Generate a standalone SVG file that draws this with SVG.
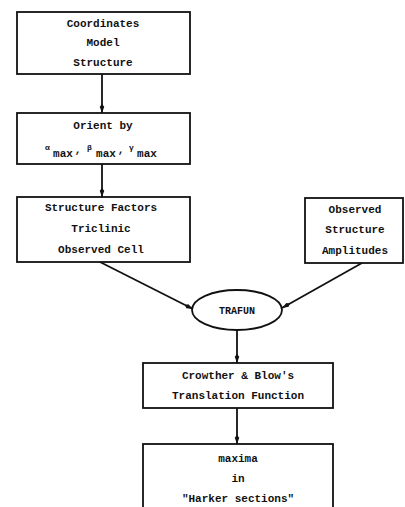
<svg xmlns="http://www.w3.org/2000/svg" width="405" height="507" viewBox="0 0 405 507">
<style>
.box{fill:#fff;stroke:#111;stroke-width:1.8}
.t{font-family:"Liberation Mono","DejaVu Sans Mono",monospace;font-weight:bold;font-size:11px;fill:#111;text-anchor:middle}
.s{font-family:"Liberation Mono","DejaVu Sans Mono",monospace;font-weight:bold;font-size:8px;fill:#111}
.c{stroke:#111;stroke-width:1.8;fill:none;marker-end:url(#ah)}
</style>
<defs>
<marker id="ah" viewBox="0 0 10 6" refX="10" refY="3" markerWidth="5" markerHeight="3" orient="auto" markerUnits="strokeWidth">
<path d="M0,3 L3,0.5 L10,3 L3,5.5 Z" fill="#111"/>
</marker>
</defs>
<rect width="405" height="507" fill="#fff"/>
<g id="connectors">
<line class="c" x1="102" y1="74" x2="102" y2="113"/>
<line class="c" x1="102" y1="164" x2="102" y2="197"/>
<line class="c" x1="100" y1="262" x2="193" y2="309"/>
<line class="c" x1="362" y1="263" x2="282" y2="308"/>
<line class="c" x1="237" y1="330" x2="237" y2="363"/>
<line class="c" x1="237" y1="408" x2="237" y2="444"/>
</g>
<g id="n1">
<rect class="box" x="17" y="12" width="173" height="62"/>
<text class="t" x="103" y="27">Coordinates</text>
<text class="t" x="103" y="46">Model</text>
<text class="t" x="103" y="66">Structure</text>
</g>
<g id="n2">
<rect class="box" x="17" y="113" width="173" height="51"/>
<text class="t" x="103" y="129">Orient by</text>
<text class="s" x="45" y="150">α</text>
<text class="t" x="63" y="157">max</text>
<text class="t" x="78" y="153">,</text>
<text class="s" x="87" y="150">β</text>
<text class="t" x="106" y="157">max</text>
<text class="t" x="121" y="153">,</text>
<text class="s" x="129" y="150">γ</text>
<text class="t" x="147" y="157">max</text>
</g>
<g id="n3">
<rect class="box" x="17" y="197" width="173" height="65"/>
<text class="t" x="101" y="211">Structure Factors</text>
<text class="t" x="101" y="232">Triclinic</text>
<text class="t" x="101" y="253">Observed Cell</text>
</g>
<g id="n4">
<rect class="box" x="305" y="198" width="98" height="65"/>
<text class="t" x="355" y="213">Observed</text>
<text class="t" x="355" y="233">Structure</text>
<text class="t" x="355" y="254">Amplitudes</text>
</g>
<g id="n5">
<ellipse class="box" cx="237" cy="310" rx="45" ry="20"/>
<text class="t" x="237" y="314" style="font-size:10px">TRAFUN</text>
</g>
<g id="n6">
<rect class="box" x="143" y="363" width="190" height="45"/>
<text class="t" x="238" y="379">Crowther &amp; Blow's</text>
<text class="t" x="238" y="399">Translation Function</text>
</g>
<g id="n7">
<rect class="box" x="143" y="444" width="190" height="70"/>
<text class="t" x="238" y="462">maxima</text>
<text class="t" x="238" y="482">in</text>
<text class="t" x="238" y="502">"Harker sections"</text>
</g>
</svg>
